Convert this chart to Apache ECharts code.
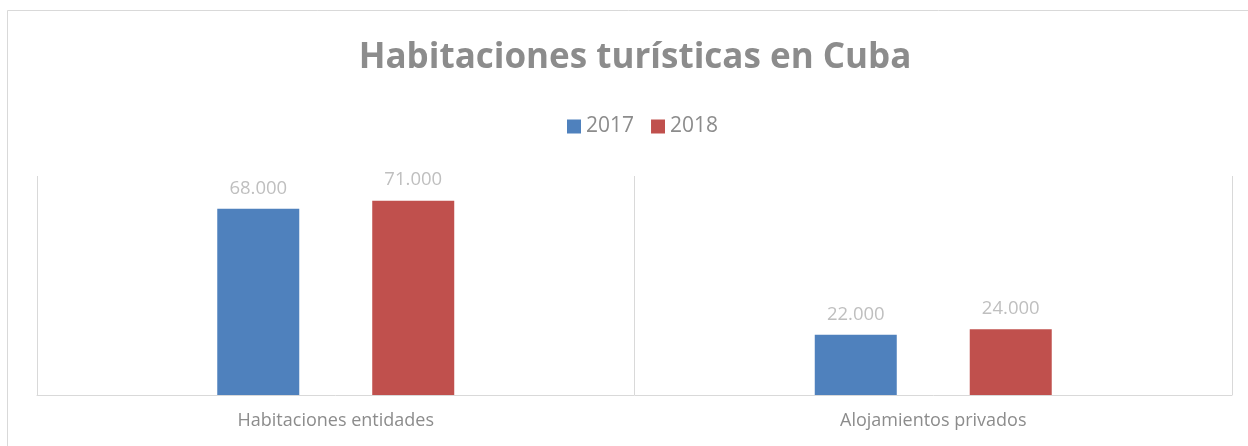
<!DOCTYPE html>
<html>
<head>
<meta charset="utf-8">
<script src="https://cdn.jsdelivr.net/npm/echarts@6/dist/echarts.min.js"></script>
<style>
  html, body { margin: 0; padding: 0; background: #fff; }
  #main { width: 1248px; height: 446px; }
</style>
</head>
<body>
<div id="main"></div>
<script>
// habitaciones turísticas en Cuba, 2017 vs 2018
var categories = ['Habitaciones entidades', 'Alojamientos privados'];
var years = ['2017', '2018'];
var values2017 = [68000, 22000];
var values2018 = [71000, 24000];

function miles(v) {
    return String(v).replace(/\B(?=(\d{3})+(?!\d))/g, '.');
}

var myChart = echarts.init(document.getElementById('main'));
var font = '"Open Sans", "Noto Sans", sans-serif';

var option = {
    backgroundColor: '#fff',
    animation: false,
    graphic: [{
        type: 'rect',
        shape: { x: 7.5, y: 10.5, width: 1300, height: 500 },
        style: { fill: 'none', stroke: '#d9d9d9', lineWidth: 1 },
        silent: true
    }],
    title: {
        text: 'Habitaciones turísticas en Cuba',
        left: 630,
        textAlign: 'center',
        top: 36,
        textStyle: { color: '#8c8c8c', fontSize: 35, fontWeight: 'bold', fontFamily: font }
    },
    legend: {
        data: years,
        icon: 'rect',
        left: 562,
        top: 111,
        itemWidth: 14,
        itemHeight: 14,
        itemGap: 17,
        textStyle: { color: '#8c8c8c', fontSize: 21, fontFamily: font }
    },
    grid: { left: 37, right: 16, top: 176, bottom: 51, containLabel: false },
    xAxis: {
        type: 'category',
        data: categories,
        axisLine: { lineStyle: { color: '#d9d9d9', width: 1 } },
        axisTick: { show: false },
        splitLine: { show: true, lineStyle: { color: '#d9d9d9', width: 1 } },
        axisLabel: { color: '#8c8c8c', fontSize: 18, margin: 17, fontFamily: font }
    },
    yAxis: {
        type: 'value',
        min: 0,
        max: 80000,
        interval: 80000,
        show: false,
        splitLine: { show: false }
    },
    series: [
        {
            name: '2017',
            type: 'bar',
            data: values2017,
            barWidth: 82,
            barGap: '89%',
            itemStyle: { color: '#4f81bd' },
            label: { show: true, position: 'top', distance: 11, color: '#bfbfbf', fontSize: 18.5, fontFamily: font,
                formatter: function (p) { return miles(p.value); } }
        },
        {
            name: '2018',
            type: 'bar',
            data: values2018,
            barWidth: 82,
            itemStyle: { color: '#c0504d' },
            label: { show: true, position: 'top', distance: 11, color: '#bfbfbf', fontSize: 18.5, fontFamily: font,
                formatter: function (p) { return miles(p.value); } }
        }
    ]
};

myChart.setOption(option);
</script>
</body>
</html>
